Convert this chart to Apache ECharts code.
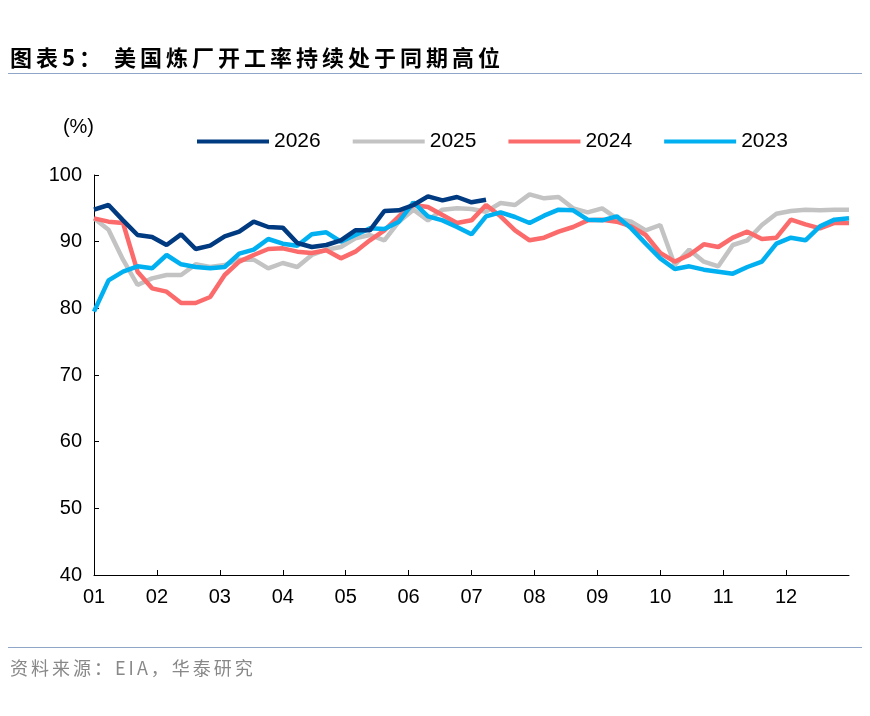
<!DOCTYPE html>
<html lang="zh-CN">
<head>
<meta charset="utf-8">
<script src="https://cdn.jsdelivr.net/npm/echarts@6/dist/echarts.min.js"></script>
<style>
  body{margin:0;background:#fff;font-family:"Noto Sans CJK SC",sans-serif;}
  #title{position:absolute;left:10px;top:40px;font-size:22px;font-weight:bold;color:#000;letter-spacing:4px;}
  #line1{position:absolute;left:8px;right:8px;top:73px;border-top:1.5px solid #8fa6c8;}
  #line2{position:absolute;left:8px;right:8px;top:647px;border-top:1.5px solid #8fa6c8;}
  #src{position:absolute;left:10px;top:654px;font-size:18px;color:#888;letter-spacing:3px;}
  #chart{position:absolute;left:0;top:0;width:870px;height:716px;}
</style>
</head>
<body>
<div id="chart"></div>
<div id="title">图表5：&nbsp;美国炼厂开工率持续处于同期高位</div>
<div id="line1"></div>
<div id="line2"></div>
<div id="src">资料来源：EIA，华泰研究</div>
<script>
// 周度开工率(%)，第0周 = 1月初
var y2026 = [94.8,95.5,93.2,91,90.7,89.5,91.1,88.9,89.4,90.8,91.5,93,92.2,92.1,89.8,89.2,89.5,90.2,91.7,91.7,94.6,94.7,95.5,96.8,96.2,96.7,95.9,96.3];
var y2025 = [93.5,91.8,87.3,83.5,84.5,85,85,86.6,86.2,86.5,87.3,87.3,86,86.8,86.2,88,88.8,89.2,90.5,91,90.2,93,94.8,93.2,94.8,95,94.9,94.5,95.8,95.5,97.1,96.5,96.7,95,94.4,95,93.5,93,91.7,92.5,86.5,88.8,87,86.3,89.5,90.2,92.5,94.2,94.6,94.8,94.7,94.8,94.8];
var y2024 = [93.5,93,92.8,85.5,83,82.5,80.8,80.8,81.7,85,87,88,88.9,89,88.5,88.3,88.7,87.5,88.5,90.2,91.7,93.8,95.5,95.2,94,92.8,93.2,95.5,93.8,91.7,90.2,90.6,91.5,92.2,93.2,93.3,93,92.3,91,88.3,87,88,89.6,89.2,90.6,91.5,90.4,90.6,93.3,92.6,92,92.8,92.8];
var y2023 = [79.5,84.2,85.5,86.3,86,88,86.6,86.2,86,86.2,88.2,88.8,90.4,89.7,89.4,91.1,91.4,90,91,92,91.9,93,95.9,93.8,93.2,92.2,91.1,93.8,94.4,93.7,92.8,93.9,94.8,94.7,93.3,93.2,93.8,92,89.7,87.5,85.9,86.3,85.8,85.5,85.2,86.2,87,89.7,90.6,90.2,92.3,93.3,93.5];
var monthLabels = ['01','02','03','04','05','06','07','08','09','10','11','12'];
var weeksPerMonth = 52 / 12;

function pts(arr){ return arr.map(function(v,i){ return [i,v]; }); }

var chart = echarts.init(document.getElementById('chart'));
var font = 'Liberation Sans, Arial, sans-serif';
function s(name, data, color){
  return {name:name,type:'line',data:pts(data),showSymbol:false,smooth:false,
          lineStyle:{width:4.5,color:color},itemStyle:{color:color},z:name==='2026'?5:3};
}
chart.setOption({
  animation:false,
  grid:{left:94,right:21,top:175,bottom:141},
  legend:{top:126,left:192,itemWidth:72,itemHeight:4,itemGap:32,
          textStyle:{fontSize:21,color:'#000',fontFamily:font},
          data:['2026','2025','2024','2023'],icon:'rect'},
  xAxis:{type:'value',min:0,max:52,interval:weeksPerMonth,
         axisLine:{lineStyle:{color:'#000',width:1}},
         axisTick:{show:true,length:5,inside:true,lineStyle:{color:'#000'}},
         splitLine:{show:false},
         axisLabel:{fontSize:20,color:'#000',fontFamily:font,margin:12,showMaxLabel:false,
           formatter:function(v){ var k=Math.round(v/weeksPerMonth); return monthLabels[k]||''; }}},
  yAxis:{type:'value',min:40,max:100,interval:10,name:'(%)',
         nameTextStyle:{fontSize:20,color:'#000',fontFamily:font,align:'right',padding:[0,0,14,0]},
         nameGap:24,
         axisLine:{show:true,lineStyle:{color:'#000',width:1}},
         axisTick:{show:true,length:5,inside:true,lineStyle:{color:'#000'}},
         splitLine:{show:false},
         axisLabel:{fontSize:20,color:'#000',fontFamily:font,margin:12}},
  series:[
    s('2025',y2025,'#c3c3c3'),
    s('2024',y2024,'#fb6b6b'),
    s('2023',y2023,'#00b0f0'),
    s('2026',y2026,'#003a80')
  ]
});
</script>
</body>
</html>
